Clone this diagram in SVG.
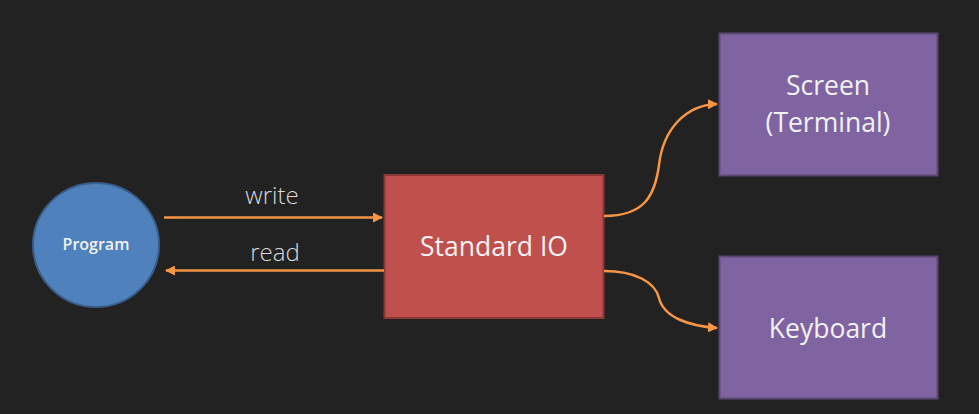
<svg xmlns="http://www.w3.org/2000/svg" width="979" height="414" viewBox="0 0 979 414">
<style>
.lbl{font-family:"Open Sans","Liberation Sans",sans-serif;fill:#F2F2F2;text-anchor:middle}
.edge{fill:none;stroke:#F79646;stroke-width:2.5}
.elbl{font-family:"Open Sans","Liberation Sans",sans-serif;font-weight:300;fill:#D9D9D9;text-anchor:middle;font-size:24px}
.purple{fill:#8064A2;stroke:#5C4776;stroke-width:2}
</style>
<defs>
<marker id="ah" viewBox="0 0 10 10" refX="9" refY="5" markerWidth="4" markerHeight="4" orient="auto" markerUnits="strokeWidth">
<path d="M0,0 L10,5 L0,10 z" fill="#F79646"/>
</marker>
</defs>
<rect width="979" height="414" fill="#222222"/>
<g id="program">
<ellipse cx="96" cy="245" rx="63" ry="62" fill="#4F81BD" stroke="#385D8A" stroke-width="2"/>
<text class="lbl" x="96" y="250" font-size="16" font-weight="600">Program</text>
</g>
<g id="stdio">
<rect x="384.5" y="175" width="219" height="143" fill="#C0504D" stroke="#8C3836" stroke-width="2"/>
<text class="lbl" x="494" y="256" font-size="26.5">Standard IO</text>
</g>
<g id="screen">
<rect class="purple" x="719.5" y="33.5" width="218" height="142"/>
<text class="lbl" x="828" y="95" font-size="26.5">Screen</text>
<text class="lbl" x="828" y="132" font-size="26.5">(Terminal)</text>
</g>
<g id="keyboard">
<rect class="purple" x="719.5" y="256.5" width="218" height="142"/>
<text class="lbl" x="828" y="338" font-size="26.5">Keyboard</text>
</g>
<g id="connectors">
<path class="edge" d="M164,217.5 L382,217.5" marker-end="url(#ah)"/>
<text class="elbl" x="272" y="204">write</text>
<path class="edge" d="M384,270.5 L166,270.5" marker-end="url(#ah)"/>
<text class="elbl" x="275" y="261">read</text>
<path class="edge" d="M604,216 C645,216 655,195 659,165 C663,130 685,105 717,104" marker-end="url(#ah)"/>
<path class="edge" d="M604,271 C635,271 655,282 659,298 C664,318 690,326 717,328" marker-end="url(#ah)"/>
</g>
</svg>
